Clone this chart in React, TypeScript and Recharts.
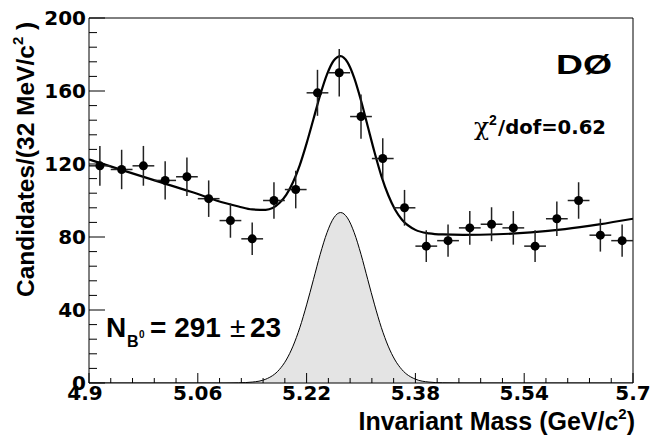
import React from 'react';
import { ComposedChart, XAxis, YAxis, Area, Line, Scatter, ErrorBar, ReferenceLine } from 'recharts';

// measured candidates per 32 MeV bin
const BIN_CENTERS = [
  4.916, 4.948, 4.98, 5.012, 5.044, 5.076, 5.108, 5.14, 5.172, 5.204, 5.236, 5.268, 5.3,
  5.332, 5.364, 5.396, 5.428, 5.46, 5.492, 5.524, 5.556, 5.588, 5.62, 5.652, 5.684,
];
const COUNTS = [119, 117, 119, 111, 113, 101, 89, 79, 100, 106, 159, 170, 146, 123, 96, 75, 78, 85, 87, 85, 75, 90, 100, 81, 78];
const COUNT_ERRORS = [
  10.9, 10.8, 10.9, 10.5, 10.6, 10.0, 9.4, 8.9, 10.0, 10.3, 12.6, 13.0, 12.1, 11.1, 9.8, 8.7, 8.8, 9.2,
  9.3, 9.2, 8.7, 9.5, 10.0, 9.0, 8.8,
];
const BIN_HALF_WIDTH = 0.016;

// fit curve (total) and signal component
const CURVE_MASS = [
  4.9, 4.95, 5.0, 5.05, 5.1, 5.12, 5.14, 5.16, 5.18, 5.19, 5.2, 5.21, 5.22, 5.23, 5.24, 5.25, 5.26, 5.27,
  5.28, 5.29, 5.3, 5.31, 5.32, 5.33, 5.34, 5.35, 5.36, 5.38, 5.4, 5.42, 5.45, 5.5, 5.55, 5.6, 5.65, 5.7,
];
const FIT_TOTAL = [
  122.5, 116.5, 110.6, 104.8, 98.6, 96.7, 95.1, 94.9, 98.6, 103.1, 110.0, 119.4, 131.3, 144.5, 157.8,
  169.1, 176.7, 179.1, 175.8, 167.2, 154.8, 140.5, 126.3, 113.4, 103.0, 95.1, 89.6, 83.9, 82.0, 81.4,
  81.2, 81.5, 82.5, 84.3, 86.9, 90.0,
];
const FIT_SIGNAL = [
  0, 0, 0, 0, 0, 0.1, 0.5, 2.1, 7.4, 12.6, 20.2, 30.3, 42.8, 56.6, 70.5, 82.4, 90.5, 93.4, 90.5, 82.4,
  70.5, 56.6, 42.8, 30.3, 20.2, 12.6, 7.4, 2.1, 0.5, 0.1, 0, 0, 0, 0, 0, 0,
];

const X_MAJOR = [4.9, 5.06, 5.22, 5.38, 5.54, 5.7];
const X_LABELS = ['4.9', '5.06', '5.22', '5.38', '5.54', '5.7'];
const Y_MAJOR = [0, 40, 80, 120, 160, 200];
const Y_LABELS = ['0', '40', '80', '120', '160', '200'];

const points = BIN_CENTERS.map((m, i) => ({ m, n: COUNTS[i], dn: COUNT_ERRORS[i], dm: BIN_HALF_WIDTH }));
const curve = CURVE_MASS.map((m, i) => ({ m, fit: FIT_TOTAL[i], sig: FIT_SIGNAL[i] }));

// 5 minor divisions per major step
const xTicks = Array.from({ length: 26 }, (_, i) => Math.round((4.9 + i * 0.032) * 1000) / 1000);
const yTicks = Array.from({ length: 26 }, (_, i) => i * 8);

const FONT = '"Liberation Sans", Arial, Helvetica, sans-serif';
const TICK_FONT = '"DejaVu Sans", Verdana, sans-serif';

function YTick(props: any) {
  const { x, y, payload } = props;
  const idx = Y_MAJOR.indexOf(payload.value);
  const len = idx >= 0 ? 16 : 8;
  return (
    <g>
      <line x1={x} x2={x + len} y1={y} y2={y} stroke="#000" strokeWidth={1} />
      {idx >= 0 && (
        <text x={x - 3} y={y + 7} textAnchor="end" fontFamily={TICK_FONT} fontWeight="bold" fontSize={20} fill="#000">
          {Y_LABELS[idx]}
        </text>
      )}
    </g>
  );
}

function XTick(props: any) {
  const { x, y, payload } = props;
  const idx = X_MAJOR.findIndex((v) => Math.abs(v - payload.value) < 1e-6);
  const len = idx >= 0 ? 10 : 5;
  return (
    <g>
      <line x1={x} x2={x} y1={y} y2={y - len} stroke="#000" strokeWidth={1} />
      {idx >= 0 && (
        <text x={idx === 0 ? x - 4 : x} y={y + 17} textAnchor="middle" fontFamily={TICK_FONT} fontWeight="bold" fontSize={20} fill="#000">
          {X_LABELS[idx]}
        </text>
      )}
    </g>
  );
}

const Dot = (props: any) => <circle cx={props.cx} cy={props.cy} r={4.5} fill="#000" />;

export default function App() {
  return (
    <div style={{ position: 'absolute', left: 0, top: 0, width: 653, height: 443, background: '#fff' }}>
      <ComposedChart width={653} height={443} data={curve} margin={{ top: 18, right: 20, left: 0, bottom: 0 }}>
        <XAxis
          dataKey="m"
          type="number"
          domain={[4.9, 5.7]}
          allowDataOverflow
          ticks={xTicks}
          interval={0}
          tickSize={0}
          tickMargin={0}
          tickLine={false}
          tick={<XTick />}
          height={60}
          axisLine={{ stroke: '#000', strokeWidth: 1 }}
        />
        <YAxis
          type="number"
          domain={[0, 200]}
          allowDataOverflow
          ticks={yTicks}
          interval={0}
          tickSize={0}
          tickMargin={0}
          tickLine={false}
          tick={<YTick />}
          width={89}
          axisLine={{ stroke: '#000', strokeWidth: 1 }}
        />
        <ReferenceLine x={5.7} stroke="#000" strokeWidth={1} />
        <ReferenceLine y={200} stroke="#000" strokeWidth={1} />
        <Area
          dataKey="sig"
          type="monotone"
          stroke="#000"
          strokeWidth={1}
          fill="#e4e4e4"
          fillOpacity={1}
          dot={false}
          activeDot={false}
          isAnimationActive={false}
        />
        <Line
          dataKey="fit"
          type="monotone"
          stroke="#000"
          strokeWidth={2.2}
          dot={false}
          activeDot={false}
          isAnimationActive={false}
        />
        <Scatter data={points} dataKey="n" shape={<Dot />} isAnimationActive={false}>
          <ErrorBar dataKey="dn" direction="y" width={0} stroke="#222" strokeWidth={1.5} isAnimationActive={false} />
          <ErrorBar dataKey="dm" direction="x" width={0} stroke="#222" strokeWidth={1.5} isAnimationActive={false} />
        </Scatter>
      </ComposedChart>
      <svg width={653} height={443} style={{ position: 'absolute', left: 0, top: 0, pointerEvents: 'none' }}>
        <g fontFamily={FONT} fontWeight="bold" fill="#000">
          <text transform="translate(34,297) rotate(-90)" fontSize={24.5}>
            Candidates/(32 MeV/c
            <tspan fontSize={15} dy={-11}>2</tspan>
            <tspan dy={11}> )</tspan>
          </text>
          <text x={635} y={430} textAnchor="end" fontSize={25}>
            Invariant Mass (GeV/c
            <tspan fontSize={15} dy={-11}>2</tspan>
            <tspan dy={11}>)</tspan>
          </text>
          <text x={556} y={74} fontSize={28} textLength={56} lengthAdjust="spacingAndGlyphs">DØ</text>
          <text x={474} y={135} fontSize={25} fontWeight="normal" fontFamily='"DejaVu Serif", "Liberation Serif", serif'>χ</text>
          <text x={489} y={125} fontSize={14}>2</text>
          <text x={498} y={134} fontSize={19} fontFamily={TICK_FONT} textLength={108} lengthAdjust="spacingAndGlyphs">/dof=0.62</text>
          <text x={106} y={337} fontSize={28}>N</text>
          <text x={127} y={347} fontSize={16}>B</text>
          <text x={139} y={338} fontSize={10}>0</text>
          <text x={150} y={337} fontSize={28}>= 291</text>
          <text x={230} y={337} fontSize={28} fontWeight="normal">±</text>
          <text x={250} y={337} fontSize={28}>23</text>
        </g>
      </svg>
    </div>
  );
}
